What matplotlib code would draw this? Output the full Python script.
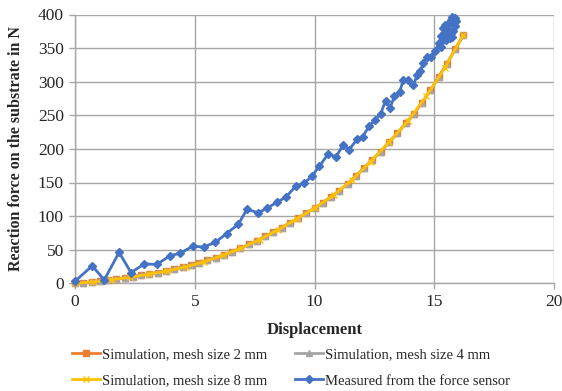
import matplotlib
matplotlib.use("Agg")
import matplotlib.pyplot as plt

plt.rcParams['font.family'] = ['Liberation Serif', 'DejaVu Serif']

# Simulated reaction force, mesh sizes 2 mm and 4 mm
sim_x = [0, 0.35, 0.69, 1.04, 1.38, 1.73, 2.07, 2.42, 2.76, 3.11, 3.45, 3.80,
         4.14, 4.49, 4.83, 5.18, 5.52, 5.87, 6.21, 6.56, 6.90, 7.25, 7.59, 7.94,
         8.28, 8.63, 8.97, 9.32, 9.66, 10.01, 10.35, 10.70, 11.04, 11.39, 11.73,
         12.08, 12.42, 12.77, 13.11, 13.46, 13.80, 14.15, 14.49, 14.84, 15.18,
         15.53, 15.87, 16.22]
sim2_y = [0, 1, 2, 3.5, 5, 6.5, 8, 10, 12, 14, 16, 18.5, 21, 24, 27, 30, 34, 38,
          42, 47, 52, 58, 63, 70, 76, 83, 90, 97, 105, 112, 120, 129, 138, 148,
          160, 172, 184, 196, 210, 223, 238, 252, 269, 287, 307, 327, 348, 370]
sim4_y = [0, 1, 2, 3.5, 5, 6.5, 8, 10, 12, 14, 16, 18.5, 21, 24, 27, 30, 34, 38,
          42, 47, 52, 58, 63, 70, 76, 83, 90, 97, 105, 112, 120, 129, 138, 148,
          160, 172, 184, 196, 210, 223, 238, 252, 269, 287, 307, 327, 348, 369]

# Simulated reaction force, mesh size 8 mm
sim8_x = [0, 0.77, 1.54, 2.31, 3.09, 3.86, 4.63, 5.40, 6.17, 6.94, 7.71, 8.49,
          9.26, 10.03, 10.80, 11.57, 12.34, 13.11, 13.89, 14.66, 15.43, 16.20]
sim8_y = [0, 2, 5.5, 9, 13.5, 18.5, 24.5, 32, 41.5, 52.5, 65, 80, 96, 112.5,
          131.5, 154, 181, 210, 241, 278, 320, 369]

# Force sensor measurement
meas_x = [0, 0.72, 1.22, 1.84, 2.34, 2.90, 3.41, 3.97, 4.40, 4.91, 5.37, 5.86,
          6.33, 6.82, 7.18, 7.65, 8.03, 8.45, 8.80, 9.23, 9.58, 9.90, 10.20,
          10.58, 10.89, 11.20, 11.45, 11.79, 12.01, 12.28, 12.53, 12.76, 12.97,
          13.15, 13.34, 13.55, 13.70, 13.92, 14.12, 14.30, 14.42, 14.55, 14.69,
          14.87, 15.03, 15.20, 15.30, 15.36, 15.28, 15.42, 15.36, 15.46, 15.56,
          15.62, 15.70, 15.76, 15.86, 15.92, 15.86, 15.80, 15.70, 15.76, 15.64,
          15.58, 15.50]
meas_y = [3, 26, 5, 46, 16, 29, 28, 41, 45, 55, 54, 61, 74, 88, 110, 105, 112,
          121, 128, 145, 149, 160, 174, 193, 188, 206, 199, 215, 218, 234, 243,
          252, 272, 261, 278, 284, 302, 303, 295, 310, 316, 328, 337, 337, 346,
          357, 352, 362, 368, 372, 380, 385, 378, 388, 392, 397, 395, 390, 383,
          376, 372, 367, 365, 370, 362]

x_ticks = [0, 5, 10, 15, 20]
y_ticks = [0, 50, 100, 150, 200, 250, 300, 350, 400]

fig = plt.figure(figsize=(5.62, 3.91), dpi=100)
ax = fig.add_axes([75 / 562, 1 - 283.3 / 391, 479 / 562, 268.8 / 391])

grid_c = '#a6a6a6'
ax.set_xlim(0, 20)
ax.set_ylim(0, 400)
ax.set_xticks(x_ticks)
ax.set_yticks(y_ticks)
ax.grid(True, color=grid_c, linewidth=1.0, zorder=0)
ax.set_axisbelow(True)
for side in ['top', 'right']:
    ax.spines[side].set_visible(False)
for side in ['left', 'bottom']:
    ax.spines[side].set_color(grid_c)
    ax.spines[side].set_linewidth(1.0)
ax.tick_params(axis='both', direction='out', length=4, width=1, color=grid_c,
               labelsize=12.5, labelcolor='#262626', pad=4)

ax.plot(sim_x, sim2_y, color='#ED7D31', lw=2, marker='s', ms=5,
        label='Simulation, mesh size 2 mm', zorder=3, clip_on=False)
ax.plot(sim_x, sim4_y, color='#A5A5A5', lw=2, marker='^', ms=5,
        label='Simulation, mesh size 4 mm', zorder=4, clip_on=False)
ax.plot(sim8_x, sim8_y, color='#FFC000', lw=2, marker='x', ms=4, mew=1,
        label='Simulation, mesh size 8 mm', zorder=5, clip_on=False)
ax.plot(meas_x, meas_y, color='#4472C4', lw=2, marker='D', ms=4,
        label='Measured from the force sensor', zorder=6, clip_on=False)

ax.set_xlabel('Displacement', fontsize=12, fontweight='bold', color='#262626',
              labelpad=8)
ax.set_ylabel('Reaction force on the substrate in N', fontsize=11.5,
              fontweight='bold', color='#262626', labelpad=10)

handles, labels = ax.get_legend_handles_labels()
order = [0, 2, 1, 3]
leg = fig.legend([handles[i] for i in order], [labels[i] for i in order],
                 ncol=2, loc='upper left', bbox_to_anchor=(72 / 562, 1 - 348 / 391),
                 frameon=False, fontsize=10.5, handlelength=1.9,
                 handletextpad=0.15, columnspacing=1.9, labelspacing=0.9,
                 borderpad=0, borderaxespad=0)
for t in leg.get_texts():
    t.set_color('#262626')

fig.savefig('out.png', dpi=100)
